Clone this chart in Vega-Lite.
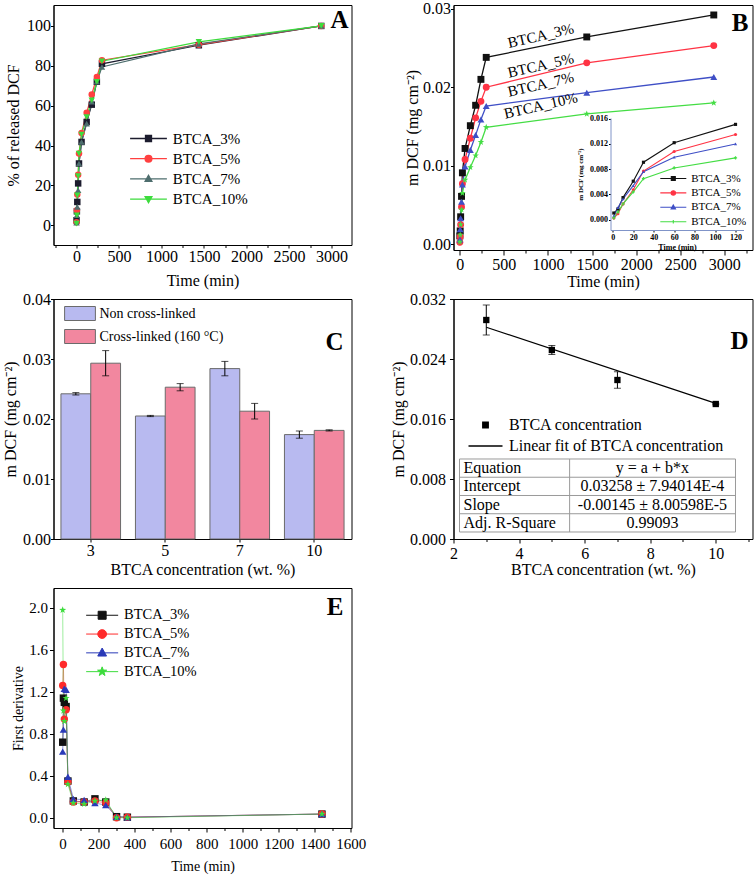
{
  "$schema": "https://vega.github.io/schema/vega-lite/v6.json",
  "padding": {"left": 1.5, "top": 0, "right": 0, "bottom": 0},
  "background": "white",
  "config": {
    "font": "Liberation Serif",
    "view": {"stroke": "black", "strokeWidth": 1},
    "style": {"guide-label": {"font": "Liberation Serif"}, "guide-title": {"font": "Liberation Serif"}},
    "axis": {"grid": false, "labelFont": "Liberation Serif", "titleFont": "Liberation Serif", "labelFontSize": 16, "titleFontSize": 16, "titleFontWeight": "normal", "labelColor": "black", "titleColor": "black", "domainColor": "black", "tickColor": "black", "labelFlush": false, "labelOverlap": false, "titleBaseline": "middle"},
    "legend": {"labelFont": "Liberation Serif", "labelColor": "black", "padding": 0, "labelLimit": 400},
    "title": {"font": "Liberation Serif", "fontWeight": "bold", "fontSize": 25, "color": "black", "anchor": "end", "frame": "group", "offset": -28}
  },
  "datasets": {
    "tA": [
      {"s":"BTCA_3%","t":1,"v":2.5},{"s":"BTCA_3%","t":5,"v":7},{"s":"BTCA_3%","t":10,"v":11.7},{"s":"BTCA_3%","t":20,"v":21},{"s":"BTCA_3%","t":30,"v":31},{"s":"BTCA_3%","t":60,"v":41.8},{"s":"BTCA_3%","t":120,"v":51.8},{"s":"BTCA_3%","t":180,"v":60.5},{"s":"BTCA_3%","t":240,"v":72},{"s":"BTCA_3%","t":300,"v":81},{"s":"BTCA_3%","t":1440,"v":90.3},{"s":"BTCA_3%","t":2880,"v":100},
      {"s":"BTCA_5%","t":1,"v":1.5},{"s":"BTCA_5%","t":5,"v":7.5},{"s":"BTCA_5%","t":10,"v":15.4},{"s":"BTCA_5%","t":20,"v":25.4},{"s":"BTCA_5%","t":30,"v":36},{"s":"BTCA_5%","t":60,"v":46.3},{"s":"BTCA_5%","t":120,"v":56.4},{"s":"BTCA_5%","t":180,"v":65.6},{"s":"BTCA_5%","t":240,"v":74.4},{"s":"BTCA_5%","t":300,"v":82.8},{"s":"BTCA_5%","t":1440,"v":90.6},{"s":"BTCA_5%","t":2880,"v":100},
      {"s":"BTCA_7%","t":1,"v":1.3},{"s":"BTCA_7%","t":5,"v":5},{"s":"BTCA_7%","t":10,"v":9.2},{"s":"BTCA_7%","t":20,"v":17.6},{"s":"BTCA_7%","t":30,"v":31},{"s":"BTCA_7%","t":60,"v":41.8},{"s":"BTCA_7%","t":120,"v":51},{"s":"BTCA_7%","t":180,"v":62},{"s":"BTCA_7%","t":240,"v":72},{"s":"BTCA_7%","t":300,"v":79.4},{"s":"BTCA_7%","t":1440,"v":91},{"s":"BTCA_7%","t":2880,"v":100},
      {"s":"BTCA_10%","t":1,"v":0.8},{"s":"BTCA_10%","t":5,"v":5},{"s":"BTCA_10%","t":10,"v":15},{"s":"BTCA_10%","t":20,"v":24.7},{"s":"BTCA_10%","t":30,"v":36},{"s":"BTCA_10%","t":60,"v":45.5},{"s":"BTCA_10%","t":120,"v":54.3},{"s":"BTCA_10%","t":180,"v":62.7},{"s":"BTCA_10%","t":240,"v":72},{"s":"BTCA_10%","t":300,"v":82.3},{"s":"BTCA_10%","t":1440,"v":92},{"s":"BTCA_10%","t":2880,"v":100}
    ],
    "tB": [
      {"s":"BTCA_3%","t":1,"m":0.00106},{"s":"BTCA_3%","t":5,"m":0.0017},{"s":"BTCA_3%","t":10,"m":0.0035},{"s":"BTCA_3%","t":20,"m":0.0061},{"s":"BTCA_3%","t":30,"m":0.0091},{"s":"BTCA_3%","t":60,"m":0.0122},{"s":"BTCA_3%","t":120,"m":0.0151},{"s":"BTCA_3%","t":180,"m":0.0177},{"s":"BTCA_3%","t":240,"m":0.021},{"s":"BTCA_3%","t":300,"m":0.0238},{"s":"BTCA_3%","t":1440,"m":0.0264},{"s":"BTCA_3%","t":2880,"m":0.0292},
      {"s":"BTCA_5%","t":1,"m":0.00026},{"s":"BTCA_5%","t":5,"m":0.00095},{"s":"BTCA_5%","t":10,"m":0.0025},{"s":"BTCA_5%","t":20,"m":0.00475},{"s":"BTCA_5%","t":30,"m":0.0077},{"s":"BTCA_5%","t":60,"m":0.0108},{"s":"BTCA_5%","t":120,"m":0.0135},{"s":"BTCA_5%","t":180,"m":0.0161},{"s":"BTCA_5%","t":240,"m":0.0182},{"s":"BTCA_5%","t":300,"m":0.02},{"s":"BTCA_5%","t":1440,"m":0.0231},{"s":"BTCA_5%","t":2880,"m":0.0253},
      {"s":"BTCA_7%","t":1,"m":0.0006},{"s":"BTCA_7%","t":5,"m":0.0019},{"s":"BTCA_7%","t":10,"m":0.0033},{"s":"BTCA_7%","t":20,"m":0.0054},{"s":"BTCA_7%","t":30,"m":0.0076},{"s":"BTCA_7%","t":60,"m":0.0099},{"s":"BTCA_7%","t":120,"m":0.012},{"s":"BTCA_7%","t":180,"m":0.0139},{"s":"BTCA_7%","t":240,"m":0.0159},{"s":"BTCA_7%","t":300,"m":0.0176},{"s":"BTCA_7%","t":1440,"m":0.0193},{"s":"BTCA_7%","t":2880,"m":0.0213},
      {"s":"BTCA_10%","t":1,"m":0.0003},{"s":"BTCA_10%","t":5,"m":0.0012},{"s":"BTCA_10%","t":10,"m":0.0025},{"s":"BTCA_10%","t":20,"m":0.0044},{"s":"BTCA_10%","t":30,"m":0.0065},{"s":"BTCA_10%","t":60,"m":0.0082},{"s":"BTCA_10%","t":120,"m":0.0098},{"s":"BTCA_10%","t":180,"m":0.0113},{"s":"BTCA_10%","t":240,"m":0.013},{"s":"BTCA_10%","t":300,"m":0.0149},{"s":"BTCA_10%","t":1440,"m":0.0166},{"s":"BTCA_10%","t":2880,"m":0.018}
    ],
    "tC": [
      {"c":"3","g":"Non cross-linked","m":0.0242,"e":0.0002},
      {"c":"3","g":"Cross-linked (160 °C)","m":0.0293,"e":0.0021},
      {"c":"5","g":"Non cross-linked","m":0.0205,"e":0.0001},
      {"c":"5","g":"Cross-linked (160 °C)","m":0.0253,"e":0.0006},
      {"c":"7","g":"Non cross-linked","m":0.0284,"e":0.0012},
      {"c":"7","g":"Cross-linked (160 °C)","m":0.0213,"e":0.0013},
      {"c":"10","g":"Non cross-linked","m":0.0174,"e":0.0006},
      {"c":"10","g":"Cross-linked (160 °C)","m":0.0181,"e":0.0001}
    ],
    "tD": [
      {"c":3,"m":0.0292,"e":0.002},
      {"c":5,"m":0.0252,"e":0.0006},
      {"c":7,"m":0.0212,"e":0.0011},
      {"c":10,"m":0.018,"e":0.0001}
    ],
    "fit": [{"c":3,"m":0.02823},{"c":10,"m":0.01808}],
    "tbl": [
      {"r":1,"k":"Equation","val":"y = a + b*x"},
      {"r":2,"k":"Intercept","val":"0.03258 ± 7.94014E-4"},
      {"r":3,"k":"Slope","val":"-0.00145 ± 8.00598E-5"},
      {"r":4,"k":"Adj. R-Square","val":"0.99093"}
    ],
    "tE": [
      {"s":"BTCA_3%","t":1,"v":0.72},{"s":"BTCA_3%","t":5,"v":1.14},{"s":"BTCA_3%","t":10,"v":1.1},{"s":"BTCA_3%","t":20,"v":1.06},{"s":"BTCA_3%","t":30,"v":0.35},{"s":"BTCA_3%","t":60,"v":0.16},{"s":"BTCA_3%","t":120,"v":0.15},{"s":"BTCA_3%","t":180,"v":0.18},{"s":"BTCA_3%","t":240,"v":0.15},{"s":"BTCA_3%","t":300,"v":0.01},{"s":"BTCA_3%","t":360,"v":0.005},{"s":"BTCA_3%","t":1440,"v":0.035},
      {"s":"BTCA_5%","t":1,"v":1.26},{"s":"BTCA_5%","t":5,"v":1.46},{"s":"BTCA_5%","t":10,"v":0.94},{"s":"BTCA_5%","t":20,"v":1.03},{"s":"BTCA_5%","t":30,"v":0.34},{"s":"BTCA_5%","t":60,"v":0.15},{"s":"BTCA_5%","t":120,"v":0.15},{"s":"BTCA_5%","t":180,"v":0.16},{"s":"BTCA_5%","t":240,"v":0.14},{"s":"BTCA_5%","t":300,"v":0.0},{"s":"BTCA_5%","t":360,"v":0.005},{"s":"BTCA_5%","t":1440,"v":0.035},
      {"s":"BTCA_7%","t":1,"v":0.63},{"s":"BTCA_7%","t":5,"v":0.84},{"s":"BTCA_7%","t":10,"v":1.23},{"s":"BTCA_7%","t":20,"v":1.22},{"s":"BTCA_7%","t":30,"v":0.39},{"s":"BTCA_7%","t":60,"v":0.18},{"s":"BTCA_7%","t":120,"v":0.17},{"s":"BTCA_7%","t":180,"v":0.14},{"s":"BTCA_7%","t":240,"v":0.12},{"s":"BTCA_7%","t":300,"v":0.01},{"s":"BTCA_7%","t":360,"v":0.005},{"s":"BTCA_7%","t":1440,"v":0.035},
      {"s":"BTCA_10%","t":1,"v":1.98},{"s":"BTCA_10%","t":5,"v":1.02},{"s":"BTCA_10%","t":10,"v":0.92},{"s":"BTCA_10%","t":20,"v":1.14},{"s":"BTCA_10%","t":30,"v":0.32},{"s":"BTCA_10%","t":60,"v":0.14},{"s":"BTCA_10%","t":120,"v":0.13},{"s":"BTCA_10%","t":180,"v":0.16},{"s":"BTCA_10%","t":240,"v":0.17},{"s":"BTCA_10%","t":300,"v":0.0},{"s":"BTCA_10%","t":360,"v":0.0},{"s":"BTCA_10%","t":1440,"v":0.035}
    ]
  },
  "columns": 2,
  "spacing": {"row": 49, "column": 102},
  "bounds": "flush",
  "resolve": {"scale": {"color": "independent", "shape": "independent", "fill": "independent", "stroke": "independent"}},
  "concat": [
    {
      "width": 298, "height": 240,
      "title": {"text": "A", "dx": -3},
      "data": {"name": "tA"},
      "encoding": {
        "x": {"field": "t", "type": "quantitative", "scale": {"domain": [-270, 3236], "nice": false, "zero": false}, "axis": {"orient": "bottom", "values": [0, 500, 1000, 1500, 2000, 2500, 3000], "format": "d", "title": "Time (min)", "labelFont": "Liberation Serif", "titleFont": "Liberation Serif", "labelFontSize": 16, "titleFontSize": 16, "tickSize": 3, "labelPadding": 0, "titleY": 35.5}},
        "y": {"field": "v", "type": "quantitative", "scale": {"domain": [-9.9, 110.5], "nice": false, "zero": false}, "axis": {"values": [0, 20, 40, 60, 80, 100], "title": "% of released DCF", "labelFont": "Liberation Serif", "titleFont": "Liberation Serif", "labelFontSize": 16, "titleFontSize": 16, "tickSize": 3, "labelPadding": 0, "titleX": -40.5}}
      },
      "layer": [
        {"mark": {"type": "line", "strokeWidth": 1.2}, "encoding": {"color": {"field": "s", "type": "nominal", "scale": {"domain": ["BTCA_3%", "BTCA_5%", "BTCA_7%", "BTCA_10%"], "range": ["#1c1c2e", "#ff4040", "#4e6e6e", "#3ddc3d"]}, "legend": null}}},
        {"mark": {"type": "point", "filled": true, "size": 42, "opacity": 1}, "encoding": {
          "x": {"field": "t", "type": "quantitative", "scale": {"domain": [-270, 3236], "nice": false, "zero": false}, "axis": null},
          "color": {"field": "s", "type": "nominal", "scale": {"domain": ["BTCA_3%", "BTCA_5%", "BTCA_7%", "BTCA_10%"], "range": ["#1c1c2e", "#ff4040", "#4e6e6e", "#3ddc3d"]}, "legend": null},
          "shape": {"field": "s", "type": "nominal", "scale": {"domain": ["BTCA_3%", "BTCA_5%", "BTCA_7%", "BTCA_10%"], "range": ["square", "circle", "triangle-up", "triangle-down"]}, "legend": null}}},
        {"transform": [{"filter": "false"}], "mark": {"type": "point", "filled": true, "opacity": 1, "strokeWidth": 1.3}, "encoding": {
          "x": {"field": "t", "type": "quantitative", "scale": {"domain": [-270, 3236], "nice": false, "zero": false}, "axis": {"orient": "bottom", "values": [-250, 250, 750, 1250, 1750, 2250, 2750], "labels": false, "domain": false, "title": null, "tickSize": 2.5}},
          "fill": {"field": "s", "type": "nominal", "scale": {"domain": ["BTCA_3%", "BTCA_5%", "BTCA_7%", "BTCA_10%"], "range": ["#1c1c2e", "#ff4040", "#4e6e6e", "#3ddc3d"]}, "legend": {"orient": "none", "legendX": 87.5, "legendY": 126, "title": null, "symbolSize": 64, "symbolStrokeWidth": 1.3, "labelFont": "Liberation Serif", "labelFontSize": 15, "labelOffset": 16.7, "rowPadding": 4.2}},
          "stroke": {"field": "s", "type": "nominal", "scale": {"domain": ["BTCA_3%", "BTCA_5%", "BTCA_7%", "BTCA_10%"], "range": ["#1c1c2e", "#ff4040", "#4e6e6e", "#3ddc3d"]}, "legend": {"orient": "none", "legendX": 87.5, "legendY": 126, "title": null, "symbolSize": 64, "symbolStrokeWidth": 1.3, "labelFont": "Liberation Serif", "labelFontSize": 15, "labelOffset": 16.7, "rowPadding": 4.2}},
          "shape": {"field": "s", "type": "nominal", "scale": {"domain": ["BTCA_3%", "BTCA_5%", "BTCA_7%", "BTCA_10%"], "range": ["M-4.6,0H4.6M-0.75,-0.75H0.75V0.75H-0.75Z", "M-4.6,0H4.6M0.85,0A0.85,0.85,0,1,1,-0.85,0A0.85,0.85,0,1,1,0.85,0Z", "M-4.6,0H4.6M0,-0.9L0.85,0.6H-0.85Z", "M-4.6,0H4.6M0,0.9L0.85,-0.6H-0.85Z"]}, "legend": {"orient": "none", "legendX": 87.5, "legendY": 126, "title": null, "symbolSize": 64, "symbolStrokeWidth": 1.3, "labelFont": "Liberation Serif", "labelFontSize": 15, "labelOffset": 16.7, "rowPadding": 4.2}}
        }}
      ],
      "resolve": {"scale": {"shape": "independent", "fill": "independent", "stroke": "independent"}, "axis": {"x": "independent"}}
    },
    {
      "width": 299, "height": 245,
      "title": {"text": "B", "dx": -4, "offset": -32, "dy": 3},
      "data": {"name": "tB"},
      "layer": [
        {
          "encoding": {
            "x": {"field": "t", "type": "quantitative", "scale": {"domain": [-71, 3319], "nice": false, "zero": false}, "axis": {"orient": "bottom", "values": [0, 500, 1000, 1500, 2000, 2500, 3000], "format": "d", "title": "Time (min)", "labelFont": "Liberation Serif", "titleFont": "Liberation Serif", "labelFontSize": 16, "titleFontSize": 16, "tickSize": 5, "labelPadding": 1.5, "titleY": 31}},
            "y": {"field": "m", "type": "quantitative", "scale": {"domain": [-0.00073, 0.03047], "nice": false, "zero": false}, "axis": {"orient": "left", "values": [0, 0.01, 0.02, 0.03], "format": ".2f", "title": "m DCF (mg cm⁻²)", "labelFont": "Liberation Serif", "titleFont": "Liberation Serif", "labelFontSize": 16, "titleFontSize": 16, "tickSize": 3, "labelPadding": 0, "titleX": -41.3}}
          },
          "layer": [
            {"mark": {"type": "line", "strokeWidth": 1.3}, "encoding": {"color": {"field": "s", "type": "nominal", "scale": {"domain": ["BTCA_3%", "BTCA_5%", "BTCA_7%", "BTCA_10%"], "range": ["#111111", "#ff3344", "#3f4fc6", "#44dd44"]}, "legend": null}}},
            {"mark": {"type": "point", "filled": true, "size": 48, "opacity": 1}, "encoding": {
              "x": {"field": "t", "type": "quantitative", "scale": {"domain": [-71, 3319], "nice": false, "zero": false}, "axis": null},
              "color": {"field": "s", "type": "nominal", "scale": {"domain": ["BTCA_3%", "BTCA_5%", "BTCA_7%", "BTCA_10%"], "range": ["#111111", "#ff3344", "#3f4fc6", "#44dd44"]}, "legend": null},
              "shape": {"field": "s", "type": "nominal", "scale": {"domain": ["BTCA_3%", "BTCA_5%", "BTCA_7%", "BTCA_10%"], "range": ["square", "circle", "triangle-up", "M0,-1L0.24,-0.33L0.95,-0.31L0.38,0.12L0.59,0.81L0,0.4L-0.59,0.81L-0.38,0.12L-0.95,-0.31L-0.24,-0.33Z"]}, "legend": null}}},
            {"transform": [{"filter": "datum.t == 300"}], "mark": {"type": "text", "angle": 347, "dx": 58, "dy": -9, "fontSize": 15, "font": "Liberation Serif", "color": "black", "align": "center", "baseline": "middle"}, "encoding": {
              "x": {"field": "t", "type": "quantitative", "scale": {"domain": [-71, 3319], "nice": false, "zero": false}, "axis": {"orient": "bottom", "values": [250, 750, 1250, 1750, 2250, 2750, 3250], "labels": false, "domain": false, "title": null, "tickSize": 3}},
              "text": {"field": "s"}}}
          ],
          "resolve": {"axis": {"x": "independent"}}
        },
        {
          "encoding": {
            "x": {"field": "t", "type": "quantitative", "scale": {"domain": [-2.25, 127.8], "range": [157, 290], "nice": false, "zero": false}, "axis": {"orient": "bottom", "offset": -20, "values": [0, 20, 40, 60, 80, 100, 120], "title": "Time (min)", "labelFont": "Liberation Serif", "titleFont": "Liberation Serif", "labelFontSize": 8, "labelFontWeight": "bold", "titleFontSize": 8, "titleFontWeight": "bold", "tickSize": 2, "labelPadding": 1, "titleY": 17, "domainColor": "#8094c8"}},
            "y": {"field": "m", "type": "quantitative", "scale": {"domain": [-0.00163, 0.01611], "range": [225, 113], "nice": false, "zero": false}, "axis": {"orient": "left", "offset": -157, "values": [0, 0.004, 0.008, 0.012, 0.016], "format": ".3f", "title": "m DCF (mg cm⁻²)", "labelFont": "Liberation Serif", "titleFont": "Liberation Serif", "labelFontSize": 8, "labelFontWeight": "bold", "titleFontSize": 7, "titleFontWeight": "bold", "tickSize": 2, "labelPadding": 1, "titleX": -30, "domainColor": "#8094c8"}}
          },
          "layer": [
            {"data": {"values": [{}]}, "mark": {"type": "rect", "fill": "white", "stroke": "#8094c8", "strokeWidth": 1}, "encoding": {"x": {"datum": -2.25}, "x2": {"datum": 127.8}, "y": {"datum": -0.00163}, "y2": {"datum": 0.01611}}},
            {"transform": [{"filter": "datum.t <= 120"}], "mark": {"type": "line", "strokeWidth": 1.1}, "encoding": {"color": {"field": "s", "type": "nominal", "scale": {"domain": ["BTCA_3%", "BTCA_5%", "BTCA_7%", "BTCA_10%"], "range": ["#111111", "#ff3344", "#3f4fc6", "#44dd44"]}, "legend": null}}},
            {"transform": [{"filter": "datum.t <= 120"}], "mark": {"type": "point", "filled": true, "size": 10, "opacity": 1}, "encoding": {
              "color": {"field": "s", "type": "nominal", "scale": {"domain": ["BTCA_3%", "BTCA_5%", "BTCA_7%", "BTCA_10%"], "range": ["#111111", "#ff3344", "#3f4fc6", "#44dd44"]}, "legend": null},
              "shape": {"field": "s", "type": "nominal", "scale": {"domain": ["BTCA_3%", "BTCA_5%", "BTCA_7%", "BTCA_10%"], "range": ["square", "circle", "triangle-up", "cross"]}, "legend": null}}},
            {"transform": [{"filter": "false"}], "mark": {"type": "point", "filled": true, "opacity": 1, "strokeWidth": 1.1}, "encoding": {
              "fill": {"field": "s", "type": "nominal", "scale": {"domain": ["BTCA_3%", "BTCA_5%", "BTCA_7%", "BTCA_10%"], "range": ["#111111", "#ff3344", "#3f4fc6", "#44dd44"]}, "legend": {"orient": "none", "legendX": 214.3, "legendY": 168, "title": null, "symbolSize": 16, "symbolStrokeWidth": 1.1, "labelFont": "Liberation Serif", "labelFontSize": 11, "labelOffset": 12.4, "rowPadding": 2.4}},
              "stroke": {"field": "s", "type": "nominal", "scale": {"domain": ["BTCA_3%", "BTCA_5%", "BTCA_7%", "BTCA_10%"], "range": ["#111111", "#ff3344", "#3f4fc6", "#44dd44"]}, "legend": {"orient": "none", "legendX": 214.3, "legendY": 168, "title": null, "symbolSize": 16, "symbolStrokeWidth": 1.1, "labelFont": "Liberation Serif", "labelFontSize": 11, "labelOffset": 12.4, "rowPadding": 2.4}},
              "shape": {"field": "s", "type": "nominal", "scale": {"domain": ["BTCA_3%", "BTCA_5%", "BTCA_7%", "BTCA_10%"], "range": ["M-6.5,0H6.5M-1,-1H1V1H-1Z", "M-6.5,0H6.5M1.1,0A1.1,1.1,0,1,1,-1.1,0A1.1,1.1,0,1,1,1.1,0Z", "M-6.5,0H6.5M0,-1.2L1.1,0.8H-1.1Z", "M-6.5,0H6.5M-0.9,0H0.9M0,-0.9V0.9"]}, "legend": {"orient": "none", "legendX": 214.3, "legendY": 168, "title": null, "symbolSize": 16, "symbolStrokeWidth": 1.1, "labelFont": "Liberation Serif", "labelFontSize": 11, "labelOffset": 12.4, "rowPadding": 2.4}}
            }}
          ],
          "resolve": {"scale": {"shape": "independent", "fill": "independent", "stroke": "independent"}}
        }
      ],
      "resolve": {"scale": {"x": "independent", "y": "independent", "color": "independent", "shape": "independent", "fill": "independent", "stroke": "independent"}}
    },
    {
      "width": 298, "height": 240,
      "title": {"text": "C", "dx": -8, "offset": -37, "dy": 27},
      "data": {"name": "tC"},
      "encoding": {
        "x": {"field": "c", "type": "nominal", "sort": ["3", "5", "7", "10"], "scale": {"paddingInner": 0.2, "paddingOuter": 0.1}, "axis": {"title": "BTCA concentration (wt. %)", "labelFont": "Liberation Serif", "titleFont": "Liberation Serif", "labelFontSize": 16, "titleFontSize": 16, "labelAngle": 0, "tickSize": 3, "labelPadding": 0, "titleY": 30}},
        "xOffset": {"field": "g", "type": "nominal", "sort": ["Non cross-linked", "Cross-linked (160 °C)"]},
        "y": {"field": "m", "type": "quantitative", "scale": {"domain": [0, 0.04], "nice": false, "zero": false}, "axis": {"values": [0, 0.01, 0.02, 0.03, 0.04], "format": ".2f", "title": "m DCF (mg cm⁻²)", "labelFont": "Liberation Serif", "titleFont": "Liberation Serif", "labelFontSize": 16, "titleFontSize": 16, "tickSize": 3, "labelPadding": 0, "titleX": -43.5}}
      },
      "layer": [
        {"mark": {"type": "bar", "stroke": "#6b6b6b", "strokeWidth": 1}, "encoding": {"fill": {"field": "g", "type": "nominal", "scale": {"domain": ["Non cross-linked", "Cross-linked (160 °C)"], "range": ["#b8baf0", "#f2879f"]}, "legend": {"orient": "none", "legendX": 19, "legendY": 7, "title": null, "symbolType": "M-2.2,-1H2.2V1H-2.2Z", "symbolSize": 196, "symbolStrokeColor": "#6b6b6b", "symbolStrokeWidth": 1, "labelFont": "Liberation Serif", "labelFontSize": 14, "labelOffset": 12, "rowPadding": 4}}}},
        {"mark": {"type": "errorbar", "ticks": {"size": 7}, "color": "black"}, "encoding": {"yError": {"field": "e"}}}
      ]
    },
    {
      "width": 299, "height": 240,
      "title": {"text": "D", "dx": -4, "offset": -37, "dy": 26},
      "layer": [
        {
          "data": {"name": "tD"},
          "encoding": {
            "x": {"field": "c", "type": "quantitative", "scale": {"domain": [2, 11.12], "nice": false, "zero": false}, "axis": {"orient": "bottom", "values": [2, 4, 6, 8, 10], "title": "BTCA concentration (wt. %)", "labelFont": "Liberation Serif", "titleFont": "Liberation Serif", "labelFontSize": 16, "titleFontSize": 16, "tickSize": 4, "labelPadding": 2.5, "titleY": 30.7}},
            "y": {"field": "m", "type": "quantitative", "scale": {"domain": [0, 0.032], "nice": false, "zero": false}, "axis": {"orient": "left", "values": [0, 0.008, 0.016, 0.024, 0.032], "format": ".3f", "title": "m DCF (mg cm⁻²)", "labelFont": "Liberation Serif", "titleFont": "Liberation Serif", "labelFontSize": 16, "titleFontSize": 16, "tickSize": 4, "labelPadding": 4, "titleX": -55}}
          },
          "layer": [
            {"data": {"name": "fit"}, "mark": {"type": "line", "color": "black", "strokeWidth": 1.2}},
            {"mark": {"type": "errorbar", "ticks": {"size": 7}, "color": "black"}, "encoding": {
              "x": {"field": "c", "type": "quantitative", "scale": {"domain": [2, 11.12], "nice": false, "zero": false}, "axis": null},
              "yError": {"field": "e"}}},
            {"mark": {"type": "point", "shape": "square", "filled": true, "color": "black", "size": 40, "opacity": 1}, "encoding": {
              "x": {"field": "c", "type": "quantitative", "scale": {"domain": [2, 11.12], "nice": false, "zero": false}, "axis": null}}},
            {"transform": [{"filter": "false"}], "mark": {"type": "point", "filled": true, "opacity": 1, "strokeWidth": 1.3}, "encoding": {
              "x": {"field": "c", "type": "quantitative", "scale": {"domain": [2, 11.12], "nice": false, "zero": false}, "axis": {"orient": "bottom", "values": [3, 5, 7, 9, 11], "labels": false, "domain": false, "title": null, "tickSize": 2.5}},
              "fill": {"field": "lbl", "type": "nominal", "scale": {"domain": ["BTCA concentration", "Linear fit of BTCA concentration"], "range": ["black", "black"]}, "legend": {"orient": "none", "legendX": 24, "legendY": 118, "title": null, "symbolSize": 100, "symbolStrokeWidth": 1.3, "labelFont": "Liberation Serif", "labelFontSize": 16, "labelLimit": 400, "labelOffset": 15.5, "rowPadding": 5}},
              "stroke": {"field": "lbl", "type": "nominal", "scale": {"domain": ["BTCA concentration", "Linear fit of BTCA concentration"], "range": ["black", "black"]}, "legend": {"orient": "none", "legendX": 24, "legendY": 118, "title": null, "symbolSize": 100, "symbolStrokeWidth": 1.3, "labelFont": "Liberation Serif", "labelFontSize": 16, "labelLimit": 400, "labelOffset": 15.5, "rowPadding": 5}},
              "shape": {"field": "lbl", "type": "nominal", "scale": {"domain": ["BTCA concentration", "Linear fit of BTCA concentration"], "range": ["M-0.55,-0.55H0.55V0.55H-0.55Z", "M-3.4,0H3.4"]}, "legend": {"orient": "none", "legendX": 24, "legendY": 118, "title": null, "symbolSize": 100, "symbolStrokeWidth": 1.3, "labelFont": "Liberation Serif", "labelFontSize": 16, "labelLimit": 400, "labelOffset": 15.5, "rowPadding": 5}}
            }}
          ],
          "resolve": {"scale": {"shape": "independent", "fill": "independent", "stroke": "independent"}, "axis": {"x": "independent"}}
        },
        {
          "data": {"name": "tbl"},
          "layer": [
            {"data": {"values": [{}]}, "mark": {"type": "rect", "fill": "white", "stroke": "#9a9a9a", "strokeWidth": 1}, "encoding": {
              "x": {"datum": 0, "type": "quantitative", "scale": {"domain": [-0.0217, 1.0616], "nice": false, "zero": false}, "axis": null},
              "x2": {"datum": 1},
              "y": {"datum": 0.5, "type": "quantitative", "scale": {"domain": [-8.267, 4.884], "reverse": true, "nice": false, "zero": false}, "axis": null},
              "y2": {"datum": 4.5}}},
            {"transform": [{"filter": "datum.r < 4"}], "mark": {"type": "rule", "color": "#9a9a9a", "strokeWidth": 1, "yOffset": 9.125}, "encoding": {
              "x": {"datum": 0, "type": "quantitative", "scale": {"domain": [-0.0217, 1.0616], "nice": false, "zero": false}, "axis": null},
              "x2": {"datum": 1},
              "y": {"field": "r", "type": "quantitative", "scale": {"domain": [-8.267, 4.884], "reverse": true, "nice": false, "zero": false}, "axis": null}}},
            {"data": {"values": [{}]}, "mark": {"type": "rule", "color": "#9a9a9a", "strokeWidth": 1}, "encoding": {
              "x": {"datum": 0.399, "type": "quantitative", "scale": {"domain": [-0.0217, 1.0616], "nice": false, "zero": false}, "axis": null},
              "y": {"datum": 0.5, "type": "quantitative", "scale": {"domain": [-8.267, 4.884], "reverse": true, "nice": false, "zero": false}, "axis": null},
              "y2": {"datum": 4.5}}},
            {"mark": {"type": "text", "align": "left", "baseline": "middle", "fontSize": 16, "font": "Liberation Serif", "color": "black"}, "encoding": {
              "x": {"datum": 0.0145, "type": "quantitative", "scale": {"domain": [-0.0217, 1.0616], "nice": false, "zero": false}, "axis": null},
              "y": {"field": "r", "type": "quantitative", "scale": {"domain": [-8.267, 4.884], "reverse": true, "nice": false, "zero": false}, "axis": null},
              "text": {"field": "k"}}},
            {"mark": {"type": "text", "align": "center", "baseline": "middle", "fontSize": 16, "font": "Liberation Serif", "color": "black"}, "encoding": {
              "x": {"datum": 0.699, "type": "quantitative", "scale": {"domain": [-0.0217, 1.0616], "nice": false, "zero": false}, "axis": null},
              "y": {"field": "r", "type": "quantitative", "scale": {"domain": [-8.267, 4.884], "reverse": true, "nice": false, "zero": false}, "axis": null},
              "text": {"field": "val"}}}
          ]
        }
      ],
      "resolve": {"scale": {"x": "independent", "y": "independent"}}
    },
    {
      "width": 298, "height": 240,
      "title": {"text": "E", "dx": -8, "offset": -32},
      "data": {"name": "tE"},
      "encoding": {
        "x": {"field": "t", "type": "quantitative", "scale": {"domain": [-50, 1604], "nice": false, "zero": false}, "axis": {"orient": "bottom", "values": [0, 200, 400, 600, 800, 1000, 1200, 1400, 1600], "format": "d", "title": "Time (min)", "labelFont": "Liberation Serif", "titleFont": "Liberation Serif", "labelFontSize": 15, "titleFontSize": 14, "tickSize": 4, "labelPadding": 4, "titleY": 38.7}},
        "y": {"field": "v", "type": "quantitative", "scale": {"domain": [-0.098, 2.19], "nice": false, "zero": false}, "axis": {"values": [0, 0.4, 0.8, 1.2, 1.6, 2.0], "format": ".1f", "title": "First derivative", "labelFont": "Liberation Serif", "titleFont": "Liberation Serif", "labelFontSize": 15, "titleFontSize": 14, "tickSize": 4, "labelPadding": 2, "titleX": -35.5}}
      },
      "layer": [
        {"mark": {"type": "line", "strokeWidth": 1, "opacity": 0.5}, "encoding": {"color": {"field": "s", "type": "nominal", "scale": {"domain": ["BTCA_3%", "BTCA_5%", "BTCA_7%", "BTCA_10%"], "range": ["#111111", "#ff2a2a", "#2a3ab8", "#3ddc3d"]}, "legend": null}}},
        {"mark": {"type": "point", "filled": true, "size": 55, "opacity": 1}, "encoding": {
          "x": {"field": "t", "type": "quantitative", "scale": {"domain": [-50, 1604], "nice": false, "zero": false}, "axis": null},
          "color": {"field": "s", "type": "nominal", "scale": {"domain": ["BTCA_3%", "BTCA_5%", "BTCA_7%", "BTCA_10%"], "range": ["#111111", "#ff2a2a", "#2a3ab8", "#3ddc3d"]}, "legend": null},
          "shape": {"field": "s", "type": "nominal", "scale": {"domain": ["BTCA_3%", "BTCA_5%", "BTCA_7%", "BTCA_10%"], "range": ["square", "circle", "triangle-up", "M0,-1L0.24,-0.33L0.95,-0.31L0.38,0.12L0.59,0.81L0,0.4L-0.59,0.81L-0.38,0.12L-0.95,-0.31L-0.24,-0.33Z"]}, "legend": null}}},
        {"transform": [{"filter": "false"}], "mark": {"type": "point", "filled": true, "opacity": 1, "strokeWidth": 1}, "encoding": {
          "x": {"field": "t", "type": "quantitative", "scale": {"domain": [-50, 1604], "nice": false, "zero": false}, "axis": {"orient": "bottom", "values": [100, 300, 500, 700, 900, 1100, 1300, 1500], "labels": false, "domain": false, "title": null, "tickSize": 2.5}},
          "fill": {"field": "s", "type": "nominal", "scale": {"domain": ["BTCA_3%", "BTCA_5%", "BTCA_7%", "BTCA_10%"], "range": ["#111111", "#ff2a2a", "#2a3ab8", "#3ddc3d"]}, "legend": {"orient": "none", "legendX": 41.4, "legendY": 20, "title": null, "symbolSize": 64, "symbolStrokeWidth": 1, "labelFont": "Liberation Serif", "labelFontSize": 14.5, "labelOffset": 14.6, "rowPadding": 3.8}},
          "stroke": {"field": "s", "type": "nominal", "scale": {"domain": ["BTCA_3%", "BTCA_5%", "BTCA_7%", "BTCA_10%"], "range": ["#111111", "#ff2a2a", "#2a3ab8", "#3ddc3d"]}, "legend": {"orient": "none", "legendX": 41.4, "legendY": 20, "title": null, "symbolSize": 64, "symbolStrokeWidth": 1, "labelFont": "Liberation Serif", "labelFontSize": 14.5, "labelOffset": 14.6, "rowPadding": 3.8}},
          "shape": {"field": "s", "type": "nominal", "scale": {"domain": ["BTCA_3%", "BTCA_5%", "BTCA_7%", "BTCA_10%"], "range": ["M-4,0H4M-1,-1H1V1H-1Z", "M-4,0H4M1.1,0A1.1,1.1,0,1,1,-1.1,0A1.1,1.1,0,1,1,1.1,0Z", "M-4,0H4M0,-1.2L1.1,0.8H-1.1Z", "M-4,0H4M0,-1.2L0.29,-0.4L1.14,-0.37L0.46,0.14L0.71,0.97L0,0.48L-0.71,0.97L-0.46,0.14L-1.14,-0.37L-0.29,-0.4Z"]}, "legend": {"orient": "none", "legendX": 41.4, "legendY": 20, "title": null, "symbolSize": 64, "symbolStrokeWidth": 1, "labelFont": "Liberation Serif", "labelFontSize": 14.5, "labelOffset": 14.6, "rowPadding": 3.8}}
        }}
      ],
      "resolve": {"scale": {"shape": "independent", "fill": "independent", "stroke": "independent"}, "axis": {"x": "independent"}}
    }
  ]
}
